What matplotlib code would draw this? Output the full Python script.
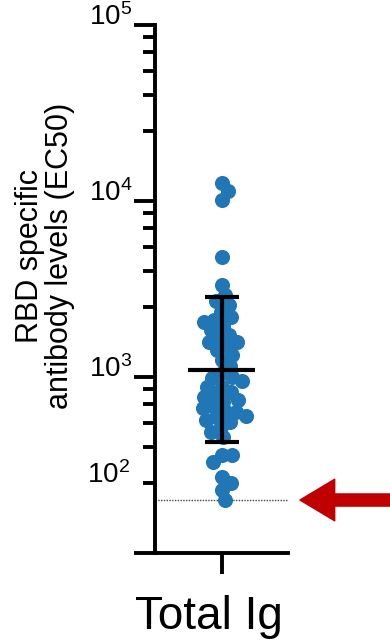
import numpy as np
import matplotlib
matplotlib.use("Agg")
import matplotlib.pyplot as plt
from matplotlib.ticker import FixedLocator, FixedFormatter
from matplotlib.transforms import ScaledTranslation

# values (EC50)
group = "Total Ig"
ec50 = [12650, 11330, 10140, 4810, 3330, 2920, 2700, 2570, 2340, 2200,
        2110, 2050, 1950, 1850, 1730, 1650, 1580, 1580, 1500, 1420,
        1330, 1250, 1150, 1050, 1000, 990, 950, 880, 880, 820,
        790, 770, 740, 720, 680, 670, 630, 630, 600, 590,
        570, 555, 520, 490, 455, 360, 360, 330, 270, 250,
        228, 200]
geo_mean = 1100
sd_low, sd_high = 427, 2850
detection_limit = 200

major_ticks = [100, 1e3, 1e4, 1e5]
major_labels = ["", r"$\mathregular{10^{3}}$", r"$\mathregular{10^{4}}$", r"$\mathregular{10^{5}}$"]
minor_steps = [2.5, 4, 5.5, 7, 8.5]
minor_decades = [100, 1e3, 1e4]
labelled_minor = 250
labelled_minor_text = r"$\mathregular{10^{2}}$"

plt.rcParams["font.family"] = ["Liberation Sans", "DejaVu Sans"]
plt.rcParams["mathtext.fontset"] = "custom"
plt.rcParams["mathtext.rm"] = "Liberation Sans"

fig = plt.figure(figsize=(3.9, 6.44), dpi=100)
ax = fig.add_axes([155 / 390, 1 - 553 / 644, 133 / 390, 528 / 644])
ax.set_yscale("log")
ax.set_ylim(100, 1e5)
ax.set_xlim(-1, 1)

# simple beeswarm in pixel space
yp = ax.transData.transform(np.column_stack([np.zeros(len(ec50)), ec50]))[:, 1]
px_per_unit = ax.transData.transform((1, 1000))[0] - ax.transData.transform((0, 1000))[0]
d = 10.5
placed = []
xoff = np.zeros(len(ec50))
for i in np.argsort(-yp):
    cands = [0.0]
    for k in range(1, 80):
        cands += [k * 0.5, -k * 0.5]
    for c in cands:
        if all((c - qx) ** 2 + (yp[i] - qy) ** 2 >= d * d for qx, qy in placed):
            break
    xoff[i] = c
    placed.append((c, yp[i]))

ax.scatter(xoff / px_per_unit, ec50, s=118, color="#2176B5", linewidths=0, zorder=2)

ax.axhline(detection_limit, color="#444444", lw=1, ls=(0, (1, 1)), zorder=1)
ax.hlines(geo_mean, -0.5, 0.5, color="black", lw=3, zorder=3)
ax.errorbar([0], [geo_mean], yerr=[[geo_mean - sd_low], [sd_high - geo_mean]],
            fmt="none", ecolor="black", elinewidth=3, capsize=12, capthick=3, zorder=3)

ax.annotate("", xy=(1.09, detection_limit), xycoords=("axes fraction", "data"),
            xytext=(1.0, detection_limit), textcoords=("figure fraction", "data"),
            arrowprops=dict(arrowstyle="simple,head_length=1.0,head_width=1.2,tail_width=0.35",
                            mutation_scale=25, color="#C00000", shrinkA=0, shrinkB=0),
            annotation_clip=False)

for s in ["top", "right"]:
    ax.spines[s].set_visible(False)
for s in ["left", "bottom"]:
    ax.spines[s].set_linewidth(2.8)

ax.yaxis.set_major_locator(FixedLocator(major_ticks))
ax.yaxis.set_major_formatter(FixedFormatter(major_labels))
minor = [m * dec for dec in minor_decades for m in minor_steps]
ax.yaxis.set_minor_locator(FixedLocator(minor))
ax.yaxis.set_minor_formatter(FixedFormatter([labelled_minor_text if v == labelled_minor else "" for v in minor]))
ax.tick_params(axis="y", which="major", length=15, width=2.8, pad=1.5, labelsize=20)
ax.tick_params(axis="y", which="minor", length=8.5, width=2.8, pad=9.5, labelsize=20)
for t in ax.get_yticklabels(which="both"):
    t.set_verticalalignment("baseline")

ax.set_xticks([0])
ax.set_xticklabels([group])
ax.tick_params(axis="x", length=15, width=2.8, pad=15, labelsize=33)
for t in ax.get_xticklabels():
    t.set_transform(t.get_transform() + ScaledTranslation(-0.13, 0, fig.dpi_scale_trans))

ax.set_ylabel("RBD specific\nantibody levels (EC50)", fontsize=22, linespacing=1.0)
ax.yaxis.set_label_coords(-0.60, 0.5625)

fig.savefig("out.png", dpi=100)
